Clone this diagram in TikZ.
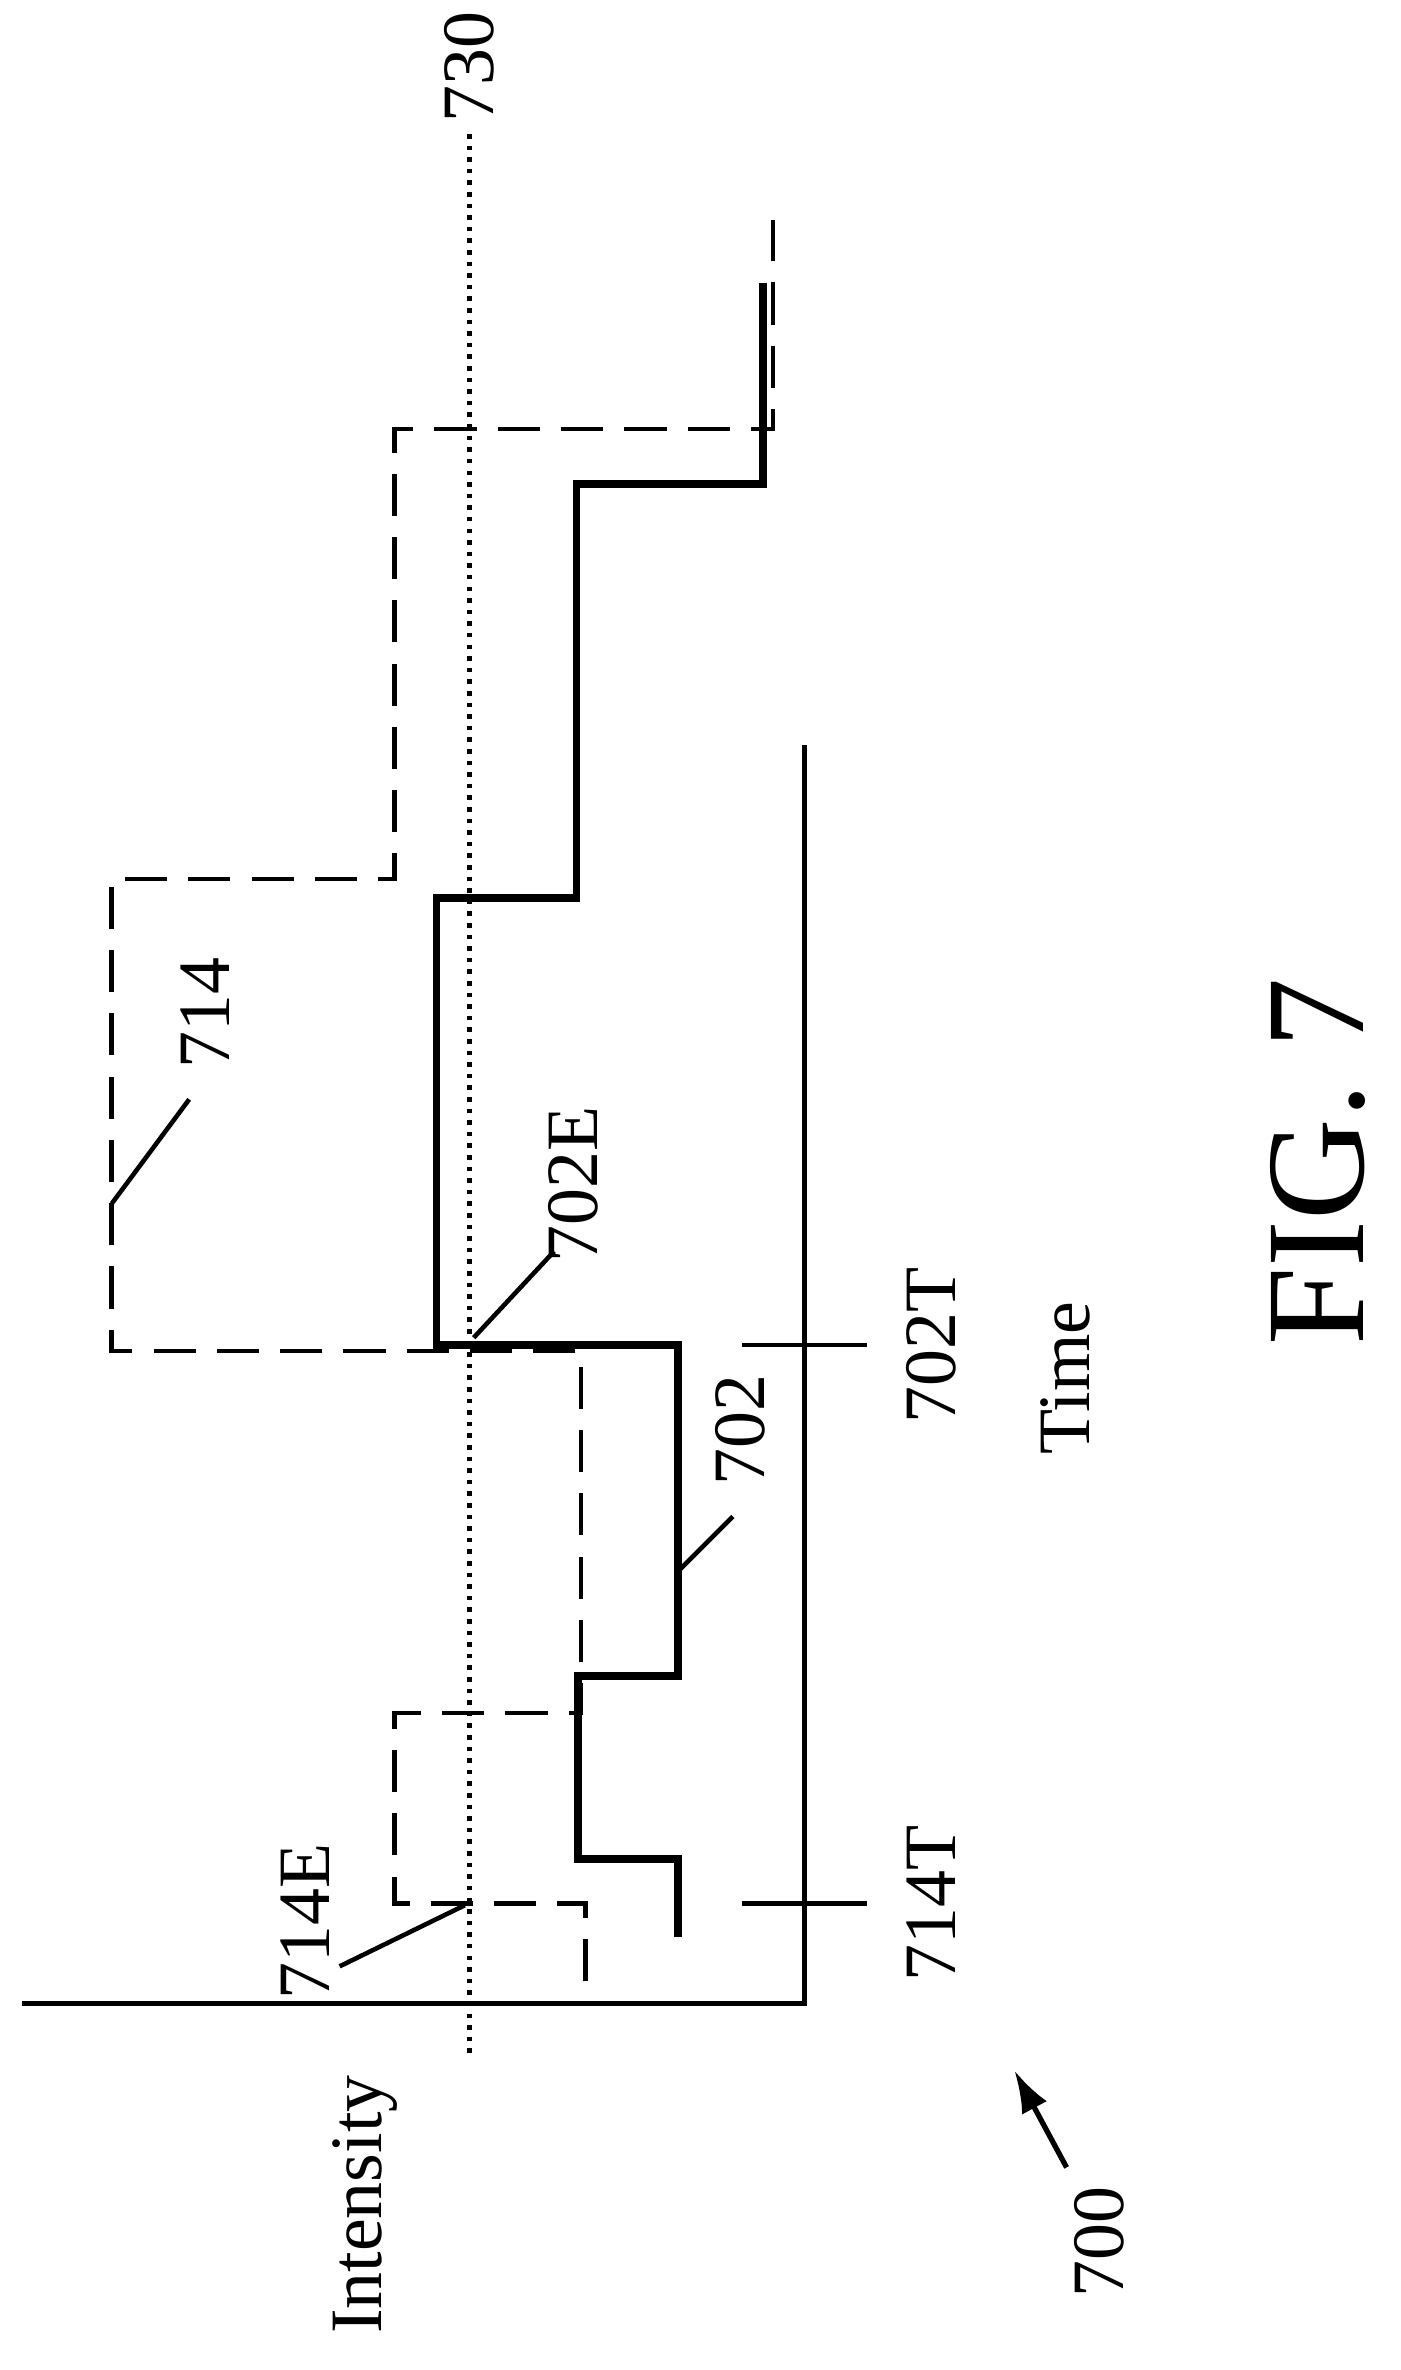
\documentclass[tikz,border=0pt]{standalone}
\usepackage{fontspec}
\setmainfont{Liberation Serif}
\usetikzlibrary{positioning,calc,arrows.meta}
\tikzset{
  lbl/.style={rotate=90,inner sep=1pt,font=\fontsize{21}{24}\selectfont},
  sig/.style={line width=2.2pt},
  ref/.style={dash pattern=on 12pt off 6pt,line width=1.3pt},
}
\begin{document}
\begin{tikzpicture}[x=0.0149cm,y=-0.0149cm]
\useasboundingbox (0,0) rectangle (940,1591);

% axes
\coordinate (ytop) at (540,500);
\coordinate (org) at (540,1345);
\coordinate (xend) at (15,1345);
\draw[line width=1.3pt] (ytop)--(org)--(xend);

% threshold
\coordinate (th1) at (315,90);
\coordinate (th2) at (315,1380);
\draw[dotted,line width=1.3pt] (th1)--(th2);
\node[lbl] (n730) at (315,45) {730};

% ticks
\foreach \y/\t in {903/702T,1278/714T}{
  \coordinate (a\t) at (498,\y);
  \coordinate (b\t) at (582,\y);
  \draw[line width=1.3pt] (a\t)--(b\t);
  \node[lbl] at (625,\y) {\t};
}
\node[lbl] (time) at (715,925) {Time};
\node[lbl] (inten) at (245,1480) {Intensity};
\node[lbl] (n700) at (738,1505) {700};
\coordinate (s700) at (716,1455);
\coordinate (p700) at (681,1390);
\draw[line width=1.5pt,-{Latex[length=12pt,width=8pt]}] (s700) -- (p700);
\node[rotate=90,font=\fontsize{40}{44}\selectfont] (fig) at (885,780) {FIG. 7};

% signal 702
\draw[sig] (455,1300)--(455,1248)--(388,1248)--(388,1125)--(455,1125)--(455,903)
  --(293,903)--(293,603)--(387,603)--(387,325)--(512,325)--(512,190);
% signal 714
\draw[ref] (393,1330)--(393,1278)--(265,1278)--(265,1150)--(390,1150)--(390,907)
  --(75,907)--(75,590)--(265,590)--(265,288)--(519,288)--(519,148);

% leaders
\node[lbl] (n714) at (138,680) {714};
\draw[line width=1.3pt] (75,808)--(127,738);
\node[lbl] (n702E) at (385,795) {702E};
\draw[line width=1.3pt] (318,898)--(372,840);
\node[lbl] (n702) at (497,960) {702};
\draw[line width=1.3pt] (455,1055)--(492,1018);
\node[lbl] (n714E) at (205,1290) {714E};
\draw[line width=1.3pt] (228,1320)--(312,1279);
\end{tikzpicture}
\end{document}
